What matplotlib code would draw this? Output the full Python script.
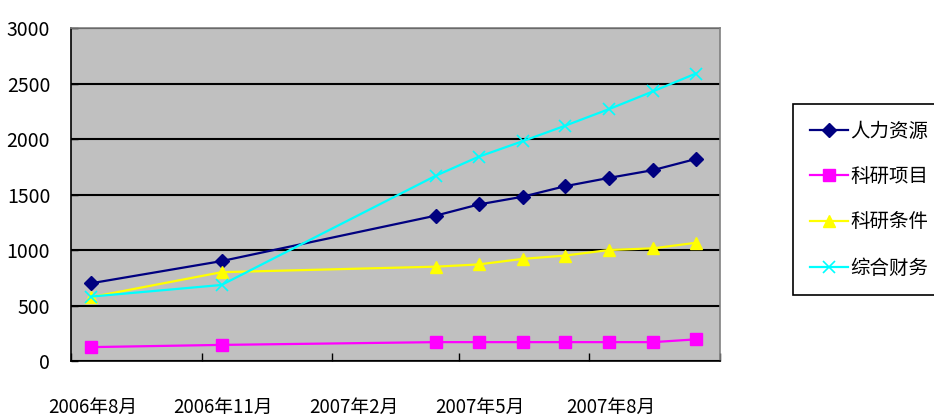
import numpy as np
import pandas as pd
import matplotlib
matplotlib.use('agg')
import matplotlib.pyplot as plt
import matplotlib.dates as mdates

plt.rcParams['font.family'] = ['Noto Sans CJK SC', 'DejaVu Sans']

# data
dates = pd.to_datetime(['2006-08-15', '2006-11-15', '2007-04-15', '2007-05-15',
                        '2007-06-15', '2007-07-15', '2007-08-15', '2007-09-15',
                        '2007-10-15'])
renli = [700, 900, 1310, 1410, 1480, 1575, 1650, 1720, 1820]
keyan_xm = [125, 145, 170, 170, 170, 170, 170, 170, 195]
keyan_tj = [575, 800, 850, 870, 920, 950, 1000, 1015, 1065]
caiwu = [580, 685, 1670, 1840, 1980, 2120, 2270, 2430, 2590]

series_names = ['人力资源', '科研项目', '科研条件', '综合财务']
tick_months = pd.to_datetime(['2006-08-01', '2006-11-01', '2007-02-01',
                              '2007-05-01', '2007-08-01', '2007-11-01'])
tick_labels = ['2006年8月', '2006年11月', '2007年2月', '2007年5月', '2007年8月', '']

fig = plt.figure(figsize=(9.34, 4.2), dpi=100)
ax = fig.add_axes([71/934, 1-361/420, 649/934, 333/420])
ax.set_facecolor('#C0C0C0')

ax.plot(dates, renli, color='#000080', lw=1.6, marker='D', ms=7, label=series_names[0])
ax.plot(dates, keyan_xm, color='#FF00FF', lw=1.6, marker='s', ms=8, label=series_names[1])
ax.plot(dates, keyan_tj, color='#FFFF00', lw=1.6, marker='^', ms=9, label=series_names[2])
ax.plot(dates, caiwu, color='#00FFFF', lw=1.6, marker='x', ms=9, mew=1.2, label=series_names[3])

ax.set_ylim(0, 3000)
ax.set_yticks(np.arange(0, 3001, 500))
ax.yaxis.grid(True, color='black', lw=1.5)
ax.set_axisbelow(True)
ax.set_xlim(pd.Timestamp('2006-08-01'), pd.Timestamp('2007-11-01'))

# major ticks at month starts, labels centred on the month
ax.set_xticks(tick_months)
ax.set_xticklabels([])
ax.set_xticks(tick_months[:-1] + pd.Timedelta(days=15), minor=True)
ax.set_xticklabels(tick_labels[:-1], minor=True)
ax.tick_params(axis='x', which='major', direction='in', length=6, width=1, color='black')
ax.tick_params(axis='x', which='minor', length=0, pad=26, labelsize=13.5)
ax.tick_params(axis='y', direction='in', length=5, width=1, pad=15, labelsize=14)

for s in ['left', 'bottom']:
    ax.spines[s].set_color('black')
    ax.spines[s].set_linewidth(1.2)
for s in ['top', 'right']:
    ax.spines[s].set_color('#808080')
    ax.spines[s].set_linewidth(1.2)

leg = ax.legend(loc='upper left', bbox_to_anchor=(793/934, 1-104/420),
                bbox_transform=fig.transFigure, borderaxespad=0, fancybox=False,
                edgecolor='black', framealpha=1, fontsize=14, handlelength=2.0,
                labelspacing=1.27, handletextpad=0.1, borderpad=0.85)
leg.get_frame().set_linewidth(1.2)

fig.savefig('out.png', dpi=100)
